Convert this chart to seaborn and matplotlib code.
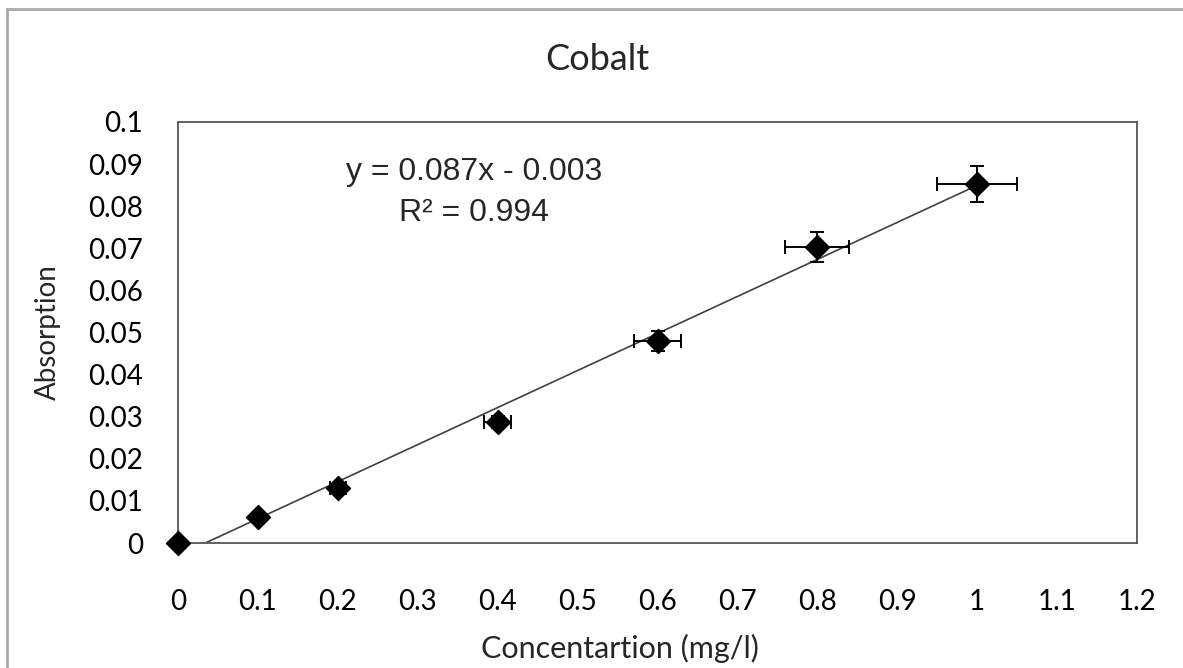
import numpy as np
import pandas as pd
import matplotlib
matplotlib.use("Agg")
import matplotlib.pyplot as plt
import seaborn as sns
from matplotlib.patches import Rectangle

# data
conc = [0, 0.1, 0.2, 0.4, 0.6, 0.8, 1.0]
absorption = [0.0, 0.0062, 0.0131, 0.0287, 0.0480, 0.0703, 0.0853]
x_err = [0, 0.005, 0.01, 0.017, 0.029, 0.04, 0.05]
y_err = [0, 0.0003, 0.0007, 0.0014, 0.0024, 0.0036, 0.0042]

x_ticks = [0, 0.1, 0.2, 0.3, 0.4, 0.5, 0.6, 0.7, 0.8, 0.9, 1, 1.1, 1.2]
y_ticks = [0, 0.01, 0.02, 0.03, 0.04, 0.05, 0.06, 0.07, 0.08, 0.09, 0.1]

df = pd.DataFrame({"conc": conc, "abs": absorption})

sns.set_theme(style="white")
plt.rcParams['font.family'] = ['Lato', 'DejaVu Sans']

fig = plt.figure(figsize=(11.83, 6.68), dpi=100)
ax = fig.add_axes([178 / 1183, 1 - 543 / 668, (1137 - 178) / 1183, (543 - 122) / 668])

# trendline (linear fit)
slope, intercept = np.polyfit(conc, absorption, 1)
xs = np.array([0, 1.0])
ax.plot(xs, slope * xs + intercept, color="#404040", lw=1.2, zorder=2)

ax.errorbar(conc, absorption, xerr=x_err, yerr=y_err, fmt="none",
            ecolor="black", elinewidth=1.4, capsize=5, capthick=1.4, zorder=3)
sns.scatterplot(data=df, x="conc", y="abs", marker="D", s=150, color="black",
                edgecolor="black", ax=ax, zorder=4, clip_on=False)

ax.set_xlim(0, 1.2)
ax.set_ylim(0, 0.1)
ax.set_xticks(x_ticks)
ax.set_xticklabels([f"{t:g}" for t in x_ticks])
ax.set_yticks(y_ticks)
ax.set_yticklabels([f"{t:g}" for t in y_ticks])
ax.tick_params(axis="x", labelsize=20, length=0, pad=33, colors="#000000")
ax.tick_params(axis="y", labelsize=20, length=0, pad=25, colors="#000000")
for s in ax.spines.values():
    s.set_color("#555555")
    s.set_linewidth(1.3)
ax.set_xlabel("")
ax.set_ylabel("")

fig.text(597 / 1183, 1 - 60 / 668, "Cobalt", ha="center", va="center", fontsize=26)
fig.text(48 / 1183, 1 - 332 / 668, "Absorption", ha="center", va="center",
         rotation=90, fontsize=20)
fig.text(620 / 1183, 1 - 648 / 668, "Concentartion (mg/l)", ha="center",
         va="center", fontsize=22)

ax.text(0.371, 0.0881, "y = 0.087x - 0.003", ha="center", va="center",
        fontsize=23, family=["Liberation Sans", "DejaVu Sans"])
ax.text(0.371, 0.0784, "R² = 0.994", ha="center", va="center",
        fontsize=23, family=["Liberation Sans", "DejaVu Sans"])

# chart area border
fig.patches.append(Rectangle((7 / 1183, -0.05), 1.2, 1 - 9 / 668 + 0.05,
                             transform=fig.transFigure, fill=False,
                             edgecolor="#aaaaaa", lw=2))

fig.savefig("out.png", dpi=100)
